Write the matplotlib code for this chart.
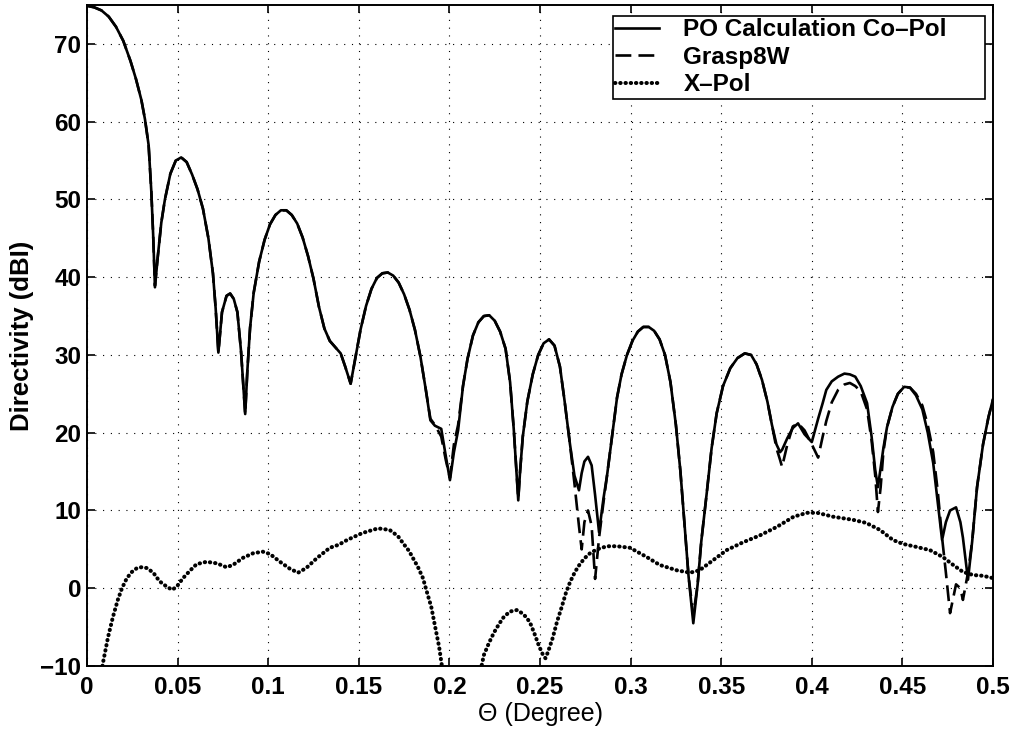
import numpy as np
import matplotlib
matplotlib.use("Agg")
import matplotlib.pyplot as plt

plt.rcParams['font.family'] = ['Liberation Sans', 'DejaVu Sans']

# theta grid (degree) shared by PO and Grasp8W curves
theta = [0.000, 0.004, 0.008, 0.012, 0.016, 0.020, 0.024, 0.027, 0.030, 0.032,
         0.034, 0.0355, 0.0365, 0.0375, 0.039, 0.041, 0.043, 0.046, 0.049, 0.052,
         0.055, 0.058, 0.061, 0.064, 0.067, 0.0695, 0.071, 0.0725, 0.0745, 0.077,
         0.079, 0.081, 0.083, 0.085, 0.0863, 0.0873, 0.0885, 0.090, 0.092, 0.095,
         0.098, 0.101, 0.104, 0.107, 0.110, 0.113, 0.116, 0.119, 0.122, 0.125,
         0.128, 0.131, 0.134, 0.137, 0.140, 0.1425, 0.1455, 0.148, 0.151, 0.154,
         0.157, 0.160, 0.163, 0.166, 0.169, 0.172, 0.175, 0.178, 0.181, 0.184,
         0.187, 0.1895, 0.192, 0.1955, 0.198, 0.2003, 0.2025, 0.2048, 0.2075, 0.210,
         0.213, 0.216, 0.219, 0.222, 0.225, 0.228, 0.231, 0.2335, 0.2355, 0.237,
         0.238, 0.239, 0.2405, 0.243, 0.246, 0.249, 0.252, 0.255, 0.258, 0.261,
         0.2635, 0.2665, 0.269, 0.2715, 0.273, 0.2745, 0.2765, 0.2785, 0.2804, 0.2826,
         0.285, 0.287, 0.290, 0.2925, 0.295, 0.298, 0.301, 0.304, 0.307, 0.310,
         0.313, 0.316, 0.319, 0.322, 0.325, 0.3275, 0.330, 0.332, 0.3346, 0.337,
         0.339, 0.342, 0.3447, 0.3475, 0.351, 0.355, 0.359, 0.363, 0.3665, 0.3695,
         0.3725, 0.3755, 0.378, 0.3805, 0.3825, 0.3836, 0.3865, 0.3895, 0.3924, 0.396,
         0.400, 0.4035, 0.406, 0.408, 0.411, 0.4145, 0.418, 0.421, 0.424, 0.427,
         0.4305, 0.433, 0.435, 0.4365, 0.438, 0.4395, 0.4415, 0.4445, 0.4475, 0.451,
         0.4542, 0.4575, 0.461, 0.464, 0.467, 0.4695, 0.4719, 0.474, 0.4763, 0.4796,
         0.482, 0.4834, 0.4862, 0.4885, 0.4912, 0.4945, 0.4975, 0.500]

po_copol = [74.9, 74.7, 74.3, 73.5, 72.2, 70.4, 67.8, 65.5, 62.8, 60.3,
            57.0, 51.0, 45.5, 38.7, 42.5, 47.0, 50.0, 53.3, 55.0, 55.4,
            54.8, 53.2, 51.3, 48.8, 45.0, 40.5, 36.0, 30.3, 35.5, 37.6,
            37.9, 37.2, 35.5, 30.5, 26.0, 22.4, 28.0, 33.5, 38.0, 42.0,
            44.8, 46.8, 48.0, 48.6, 48.6, 48.0, 46.9, 45.1, 42.7, 39.8,
            36.2, 33.4, 31.8, 31.0, 30.2, 28.5, 26.3, 29.5, 33.3, 36.3,
            38.5, 39.9, 40.5, 40.6, 40.2, 39.3, 37.8, 35.8, 33.2, 29.8,
            25.5, 21.6, 20.9, 20.5, 17.0, 13.9, 17.5, 20.3, 26.0, 29.5,
            32.5, 34.2, 35.0, 35.1, 34.4, 33.0, 30.8, 26.5, 20.5, 15.0,
            11.3, 15.0, 19.5, 24.0, 27.5, 30.0, 31.5, 32.0, 31.2, 28.5,
            24.2, 18.6, 14.5, 12.6, 14.8, 16.3, 16.9, 15.8, 12.0, 7.2,
            11.5, 14.5, 20.0, 24.5, 27.5, 30.0, 31.8, 33.0, 33.6, 33.6,
            33.1, 32.0, 30.0, 26.5, 21.0, 15.0, 7.5, 1.5, -4.5, 0.5,
            6.0, 12.2, 18.0, 22.5, 26.0, 28.3, 29.6, 30.2, 30.0, 28.8,
            26.8, 24.0, 21.0, 18.5, 17.5, 17.8, 19.3, 20.6, 21.2, 19.8,
            18.8, 21.8, 23.8, 25.5, 26.6, 27.2, 27.6, 27.5, 27.2, 26.0,
            23.8, 19.5, 15.2, 13.0, 15.5, 18.0, 20.7, 23.3, 25.0, 25.9,
            25.8, 24.8, 23.0, 20.0, 16.1, 11.0, 6.2, 8.5, 10.0, 10.4,
            8.5, 6.5, 1.1, 6.0, 13.0, 18.5, 22.0, 24.3]

grasp8w = [74.9, 74.7, 74.3, 73.5, 72.2, 70.4, 67.8, 65.5, 62.8, 60.3,
           57.0, 51.0, 45.5, 38.9, 42.5, 47.0, 50.0, 53.3, 55.0, 55.4,
           54.8, 53.2, 51.3, 48.8, 45.0, 40.5, 36.0, 30.3, 35.5, 37.6,
           37.9, 37.2, 35.5, 30.5, 26.0, 22.4, 28.0, 33.5, 38.0, 42.0,
           44.8, 46.8, 48.0, 48.6, 48.6, 48.0, 46.9, 45.1, 42.7, 39.8,
           36.2, 33.4, 31.8, 31.0, 30.2, 28.5, 26.3, 29.5, 33.3, 36.3,
           38.5, 39.9, 40.5, 40.6, 40.2, 39.3, 37.8, 35.8, 33.2, 29.8,
           25.5, 21.8, 21.0, 19.5, 16.5, 14.2, 18.5, 21.0, 26.0, 29.5,
           32.5, 34.2, 35.0, 35.1, 34.4, 33.0, 30.8, 26.5, 20.5, 15.0,
           11.5, 15.0, 19.5, 24.0, 27.5, 30.0, 31.5, 32.0, 31.2, 28.5,
           24.2, 18.6, 13.5, 8.0, 5.0, 8.5, 10.0, 8.0, 1.2, 6.5,
           11.0, 14.5, 20.0, 24.5, 27.5, 30.0, 31.8, 33.0, 33.6, 33.6,
           33.1, 32.0, 30.0, 26.5, 21.0, 15.0, 7.5, 1.5, -3.5, 0.5,
           6.0, 12.2, 18.0, 22.5, 26.0, 28.3, 29.6, 30.2, 30.0, 28.8,
           26.8, 24.0, 21.0, 18.0, 16.5, 15.6, 18.5, 20.8, 21.2, 20.3,
           18.5, 16.8, 19.5, 21.5, 23.9, 25.5, 26.2, 26.4, 26.0, 25.3,
           23.0, 19.0, 14.5, 9.8, 13.0, 17.5, 20.7, 23.3, 25.0, 25.9,
           25.8, 25.0, 23.5, 21.0, 17.5, 12.5, 6.5, 2.0, -3.2, 0.5,
           0.0, -1.5, 2.0, 6.0, 13.0, 18.5, 22.0, 24.3]

# cross-polar curve
theta_x = [0.006, 0.0088, 0.0116, 0.0143, 0.017, 0.0193, 0.022, 0.0248, 0.0276, 0.030,
           0.033, 0.0366, 0.040, 0.044, 0.047, 0.0495, 0.053, 0.057, 0.0605, 0.066,
           0.0717, 0.077, 0.0806, 0.086, 0.0917, 0.097, 0.101, 0.1065, 0.112, 0.1165,
           0.121, 0.127, 0.134, 0.139, 0.1435, 0.152, 0.1606, 0.167, 0.1716, 0.1744,
           0.1777, 0.1827, 0.1854, 0.1876, 0.190, 0.192, 0.1943, 0.1965, 0.216, 0.219,
           0.2219, 0.2246, 0.2274, 0.230, 0.2334, 0.2373, 0.240, 0.2428, 0.245, 0.2472,
           0.2494, 0.2517, 0.253, 0.2544, 0.257, 0.2594, 0.262, 0.2643, 0.2666, 0.2693,
           0.272, 0.2748, 0.2776, 0.2814, 0.287, 0.2925, 0.2997, 0.309, 0.316, 0.3256,
           0.3328, 0.338, 0.3455, 0.353, 0.362, 0.3714, 0.3808, 0.390, 0.3974, 0.403,
           0.4117, 0.4227, 0.430, 0.4376, 0.4448, 0.4503, 0.458, 0.4652, 0.4724, 0.478,
           0.4834, 0.489, 0.4945, 0.500]
x_pol = [-14.0, -9.6, -6.3, -3.7, -1.5, 0.0, 1.3, 2.1, 2.6, 2.7,
         2.6, 2.0, 0.9, 0.2, -0.2, 0.2, 1.3, 2.3, 3.1, 3.4,
         3.2, 2.7, 3.0, 3.9, 4.5, 4.7, 4.4, 3.4, 2.5, 2.0,
         2.6, 3.9, 5.2, 5.6, 6.2, 7.1, 7.7, 7.5, 6.7, 5.8,
         4.8, 2.7, 1.3, -0.5, -2.4, -4.8, -7.5, -11.0, -12.0, -8.6,
         -7.0, -5.7, -4.6, -3.7, -3.0, -2.8, -3.2, -3.8, -4.7, -6.0,
         -7.4, -8.6, -9.0, -8.2, -6.4, -4.3, -2.4, -0.6, 0.8, 2.1,
         3.1, 3.9, 4.5, 5.0, 5.4, 5.4, 5.2, 4.0, 3.0, 2.3,
         2.0, 2.3, 3.6, 4.9, 5.9, 6.8, 7.9, 9.2, 9.7, 9.7,
         9.2, 8.8, 8.4, 7.5, 6.2, 5.7, 5.3, 4.9, 4.0, 3.0,
         2.1, 1.7, 1.6, 1.3]

x_ticks = [0, 0.05, 0.1, 0.15, 0.2, 0.25, 0.3, 0.35, 0.4, 0.45, 0.5]
x_tick_labels = ['0', '0.05', '0.1', '0.15', '0.2', '0.25', '0.3', '0.35', '0.4', '0.45', '0.5']
y_ticks = [-10, 0, 10, 20, 30, 40, 50, 60, 70]

fig = plt.figure(figsize=(10.14, 7.31), dpi=100)
ax = fig.add_axes([87 / 1014, 65 / 731, 906 / 1014, 661 / 731])

ax.plot(theta, po_copol, color='black', lw=1.9, zorder=4,
        label='PO Calculation Co–Pol')
ax.plot(theta, grasp8w, color='black', lw=1.9, dashes=(6, 2.7), zorder=3,
        label='Grasp8W')
ax.plot(theta_x, x_pol, color='black', lw=2.9, dashes=(0.1, 1.2),
        dash_capstyle='round', zorder=3, label='X–Pol')

ax.set_xlim(0, 0.5)
ax.set_ylim(-10, 75)
ax.set_xticks(x_ticks)
ax.set_xticklabels(x_tick_labels)
ax.set_yticks(y_ticks)

ax.grid(True, color='black', lw=0.8, dashes=(1, 6))
ax.tick_params(direction='in', length=6, width=1.2, top=True, right=True,
               labelsize=17.5)
ax.tick_params(axis='x', pad=7)
ax.tick_params(axis='y', pad=4)
for lbl in ax.get_xticklabels() + ax.get_yticklabels():
    lbl.set_fontweight('bold')
for sp in ax.spines.values():
    sp.set_linewidth(1.4)

ax.set_xlabel('Θ (Degree)', fontsize=18)
ax.set_ylabel('Directivity (dBI)', fontsize=18.5, fontweight='bold')
ax.xaxis.set_label_coords(0.5, -0.055)
ax.yaxis.set_label_coords(-0.059, 0.5)

leg = ax.legend(loc='upper left',
                bbox_to_anchor=((613 - 87) / 906, (666 - 99) / 661, 372 / 906, 83 / 661),
                mode='expand', borderaxespad=0, fancybox=False, framealpha=1,
                edgecolor='black', prop={'weight': 'bold', 'size': 17.5},
                handlelength=1.8, handletextpad=1.0, borderpad=0.1,
                labelspacing=0.18)
leg.get_frame().set_linewidth(1.2)

fig.savefig('out.png', dpi=100)
